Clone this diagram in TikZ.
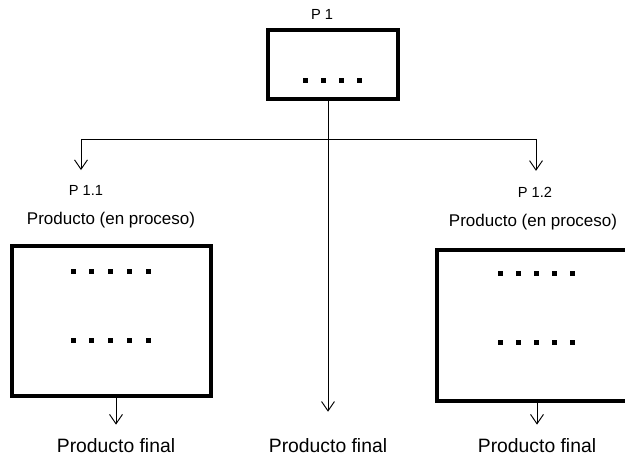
\documentclass[tikz,border=0pt]{standalone}
\usepackage{fontspec}
\setmainfont{Liberation Sans}
\usetikzlibrary{arrows.meta}

\tikzset{
  caja/.style={draw, line width=3pt, inner sep=0pt},
  linea/.style={line width=0.8pt},
  flecha/.style={linea, -{Straight Barb[length=8pt,width=11pt]}},
  etiq/.style={inner sep=0pt, font=\fontsize{12.5}{14}\selectfont},
  prod/.style={inner sep=0pt, font=\fontsize{14.5}{16}\selectfont},
  fin/.style={inner sep=0pt, font=\fontsize{16.5}{18}\selectfont}
}

\begin{document}
\begin{tikzpicture}[x=0.03cm,y=-0.03cm]
\useasboundingbox (0,0) rectangle (625,461);
\clip (0,0) rectangle (625,461);

% proceso principal
\node [etiq] (lp1) at (322,14) {P 1};
\node [caja, minimum width=3.9cm, minimum height=2.07cm] (p1) at (333,64.5) {};
\foreach \x in {305,323,341,359}
  \fill (\x-2.5,78.5) rectangle ++(5,5);

% subprocesos
\node [etiq] (lp11) at (86,190) {P 1.1};
\node [etiq] (lp12) at (535,192) {P 1.2};
\node [prod] (en11) at (111,220) {Producto (en proceso)};
\node [prod] (en12) at (533,222) {Producto (en proceso)};
\node [caja, minimum width=5.97cm, minimum height=4.5cm] (caja11) at (111.5,321) {};
\node [caja, minimum width=6.06cm, minimum height=4.53cm] (caja12) at (538,325.5) {};
\foreach \y in {272,340}
  \foreach \x in {73,91.75,...,148}
    \fill (\x-2.5,\y-2.5) rectangle ++(5,5);
\foreach \y in {274,342}
  \foreach \x in {500,518,...,572}
    \fill (\x-2.5,\y-2.5) rectangle ++(5,5);

% productos finales
\node [fin] (fin11) at (116,446) {Producto final};
\node [fin] (fin1) at (328,446) {Producto final};
\node [fin] (fin12) at (537,446) {Producto final};

% conexiones
\coordinate (r11) at (81,139);
\coordinate (r12) at (536,139);
\draw [linea] (r11) -- (r12);
\draw [flecha, shorten >=12.5pt] (r11) -- (r11 |- lp11.north);
\draw [flecha, shorten >=13.5pt] (r12) -- (r12 |- lp12.north);
\draw [flecha, shorten >=23pt] (p1.south -| fin1) -- (fin1.north);
\draw [flecha, shorten >=12pt] (caja11.south -| fin11) -- (fin11.north);
\draw [flecha, shorten >=12pt] (caja12.south -| fin12) -- (fin12.north);
\end{tikzpicture}
\end{document}
